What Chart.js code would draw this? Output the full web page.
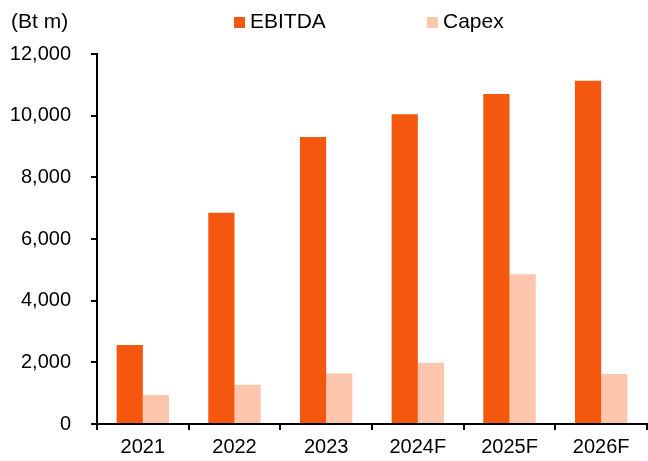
<!DOCTYPE html>
<html>
<head>
<meta charset="utf-8">
<script src="https://cdn.jsdelivr.net/npm/chart.js@4"></script>
<style>
html,body{margin:0;padding:0;background:#fff;}
#wrap{width:648px;height:461px;position:relative;}
</style>
</head>
<body>
<div id="wrap"><canvas id="c" width="648" height="461"></canvas></div>
<script>
const categories = ["2021","2022","2023","2024F","2025F","2026F"];
const ebitda = [2560, 6850, 9310, 10050, 10700, 11130];
const capex = [940, 1270, 1640, 1990, 4860, 1620];
const yTicks = [0, 2000, 4000, 6000, 8000, 10000, 12000];
const unitLabel = "(Bt m)";
const seriesNames = ["EBITDA", "Capex"];

const FONT = "'Liberation Sans', Arial, sans-serif";

const legendPlugin = {
  id: 'customLegend',
  afterDraw(chart) {
    const ctx = chart.ctx;
    ctx.save();
    ctx.font = "21px " + FONT;
    ctx.textBaseline = 'middle';
    ctx.fillStyle = '#000';
    ctx.textAlign = 'left';
    ctx.fillText(unitLabel, 11, 22);
    const pos = [234, 427];
    chart.data.datasets.forEach((ds, i) => {
      ctx.fillStyle = ds.backgroundColor;
      ctx.fillRect(pos[i], 17, 11, 11);
      ctx.fillStyle = '#000';
      ctx.fillText(ds.label, pos[i] + 16, 22);
    });
    ctx.restore();
  }
};

new Chart(document.getElementById('c'), {
  type: 'bar',
  data: {
    labels: categories,
    datasets: [
      { label: seriesNames[0], data: ebitda, backgroundColor: '#F4580F', borderWidth: 0 },
      { label: seriesNames[1], data: capex, backgroundColor: '#FFC6AE', borderWidth: 0 }
    ]
  },
  options: {
    responsive: false,
    animation: false,
    devicePixelRatio: 1,
    layout: { padding: { left: 0, right: 1, top: 54, bottom: 0 } },
    plugins: { legend: { display: false }, tooltip: { enabled: false }, title: { display: false } },
    datasets: { bar: { categoryPercentage: 0.572, barPercentage: 1.0 } },
    scales: {
      x: {
        afterFit(scale) { scale.height = 37; },
        grid: { display: true, drawOnChartArea: false, drawTicks: true, tickLength: 6, color: '#000', lineWidth: 2, offset: true },
        border: { display: true, color: '#000', width: 2 },
        ticks: { color: '#000', font: { family: FONT, size: 20 }, padding: 5, maxRotation: 0 }
      },
      y: {
        min: 0, max: 12000,
        afterFit(scale) { scale.width = 97; },
        afterBuildTicks(scale) { scale.ticks = yTicks.map(v => ({ value: v })); },
        grid: { display: true, drawOnChartArea: false, drawTicks: true, tickLength: 6, color: '#000', lineWidth: 2 },
        border: { display: true, color: '#000', width: 2 },
        ticks: {
          color: '#000', font: { family: FONT, size: 20 }, padding: 20,
          callback: v => v.toLocaleString('en-US')
        }
      }
    }
  },
  plugins: [legendPlugin]
});
</script>
</body>
</html>
